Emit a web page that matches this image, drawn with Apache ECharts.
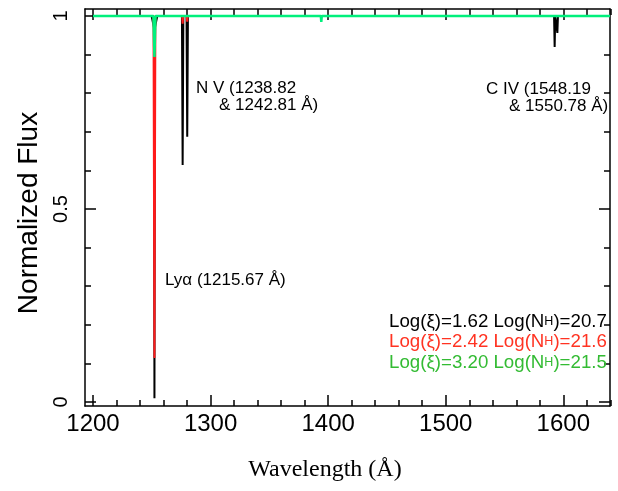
<!DOCTYPE html>
<html>
<head>
<meta charset="utf-8">
<script src="https://cdn.jsdelivr.net/npm/echarts@6/dist/echarts.min.js"></script>
<style>
html, body { margin: 0; padding: 0; background: #fff; }
#chart { width: 618px; height: 491px; }
</style>
</head>
<body>
<div id="chart"></div>
<script>
// model spectra, [observed wavelength (A), normalized flux]
const fluxXi162 = [
    [1200, 1], [1249.9, 1], [1251.9, 0.97], [1252.3, 0.01], [1252.7, 0.97], [1254.7, 1],
    [1275.7, 1], [1276.3, 0.614], [1276.9, 1],
    [1279.6, 1], [1280.2, 0.687], [1280.8, 1],
    [1592.4, 1], [1592.9, 0.92], [1593.4, 1],
    [1594.7, 1], [1595.2, 0.956], [1595.7, 1],
    [1640, 1]
];
const fluxXi242 = [
    [1200, 1], [1251.5, 1], [1252.3, 0.114], [1253.1, 1],
    [1275.9, 1], [1276.3, 0.98], [1276.7, 1],
    [1279.8, 1], [1280.2, 0.985], [1280.6, 1],
    [1640, 1]
];
const fluxXi320 = [
    [1200, 1], [1251.4, 1], [1252.3, 0.894], [1253.2, 1],
    [1393.9, 1], [1394.3, 0.985], [1394.7, 1],
    [1640, 1]
];

const modelXi = ['1.62', '2.42', '3.20'];
const modelNH = ['20.7', '21.6', '21.5'];
const lineColors = ['#000000', '#ff1a1a', '#00f07c'];
const labelColors = ['#000000', '#ff3322', '#33bb33'];

const xMajor = 100, yMajor = 0.5;

const chart = echarts.init(document.getElementById('chart'), null, { renderer: 'canvas' });

const sans = 'Liberation Sans, Arial, Helvetica, sans-serif';
const serif = 'Liberation Serif, Times New Roman, serif';
const black = { color: '#000', width: 1.5 };

const frameAxis = (pos, min, max) => ({
    gridIndex: 0, type: 'value', position: pos, min: min, max: max,
    axisLine: { show: true, onZero: false, lineStyle: black },
    axisTick: { show: false }, axisLabel: { show: false }, splitLine: { show: false }
});

const tickAxis = (grid, pos, min, max, interval, labels, extra) => Object.assign({
    gridIndex: grid, type: 'value', position: pos, min: min, max: max, interval: interval,
    axisLine: { show: false, onZero: false },
    axisTick: { show: true, inside: true, length: 11, lineStyle: black },
    minorTick: { show: true, splitNumber: 5, length: 6, lineStyle: black },
    splitLine: { show: false }, minorSplitLine: { show: false },
    axisLabel: { show: labels, color: '#000', fontFamily: sans, fontSize: 22 }
}, extra || {});

const legendTitles = modelXi.map((xi, i) => ({
    text: '{a|Log(ξ)=' + xi + ' Log(N}{s|H}{a|)=' + modelNH[i] + '}',
    left: 389, top: 312 + i * 20.5, padding: 0,
    textStyle: {
        fontWeight: 'normal',
        rich: {
            a: { color: labelColors[i], fontSize: 18.7, fontFamily: sans, fontWeight: 'normal' },
            s: { color: labelColors[i], fontSize: 12.5, fontFamily: sans, fontWeight: 'normal' }
        }
    }
}));

const txt = (text, x, y, size, extra) => ({
    type: 'text', x: x, y: y, z: 100,
    style: Object.assign({
        text: text, fill: '#000', fontSize: size, fontFamily: sans,
        textAlign: 'left', textVerticalAlign: 'middle'
    }, extra || {})
});

const option = {
    animation: false,
    backgroundColor: '#fff',
    title: legendTitles,
    grid: [
        { left: 85, right: 8, top: 9, bottom: 85, outerBoundsMode: 'none' },
        { left: 93, width: 587.9, top: 9, bottom: 85, outerBoundsMode: 'none' },
        { left: 85, right: 8, top: 16, bottom: 89, outerBoundsMode: 'none' }
    ],
    xAxis: [
        frameAxis('bottom', 1193.2, 1640),
        frameAxis('top', 1193.2, 1640),
        tickAxis(1, 'bottom', 1200, 1700, xMajor, true, {
            axisLabel: {
                show: true, color: '#000', fontFamily: sans, fontSize: 24, margin: 6,
                formatter: v => String(v)
            }
        }),
        tickAxis(1, 'top', 1200, 1700, xMajor, false),
        { gridIndex: 2, type: 'value', min: 0, max: 1, show: false }
    ],
    yAxis: [
        frameAxis('left', -0.0104, 1.0181),
        frameAxis('right', -0.0104, 1.0181),
        { gridIndex: 1, type: 'value', min: 0, max: 1, show: false },
        tickAxis(2, 'left', 0, 1, yMajor, true, {
            axisLabel: {
                show: true, color: '#000', fontFamily: sans, fontSize: 20, rotate: 90, margin: 14,
                formatter: v => String(v)
            }
        }),
        tickAxis(2, 'right', 0, 1, yMajor, false)
    ],
    series: [fluxXi162, fluxXi242, fluxXi320].map((d, i) => ({
        type: 'line', xAxisIndex: 0, yAxisIndex: 0, data: d,
        symbol: 'none', showSymbol: false, z: 2 + i,
        lineStyle: { color: lineColors[i], width: i === 2 ? 2.5 : 2 }
    })),
    graphic: [
        txt('N V (1238.82', 196, 88, 17),
        txt('& 1242.81 Å)', 219, 105.5, 17),
        txt('C IV (1548.19', 486, 89, 17),
        txt('& 1550.78 Å)', 509, 106, 17),
        txt('Lyα (1215.67 Å)', 165, 280, 17),
        txt('Normalized Flux', 29, 213, 28, { textAlign: 'center' }),
        txt('Wavelength (Å)', 325, 470, 24, { textAlign: 'center', fontFamily: serif })
    ]
};
option.graphic[5].rotation = Math.PI / 2;

chart.setOption(option);
</script>
</body>
</html>
